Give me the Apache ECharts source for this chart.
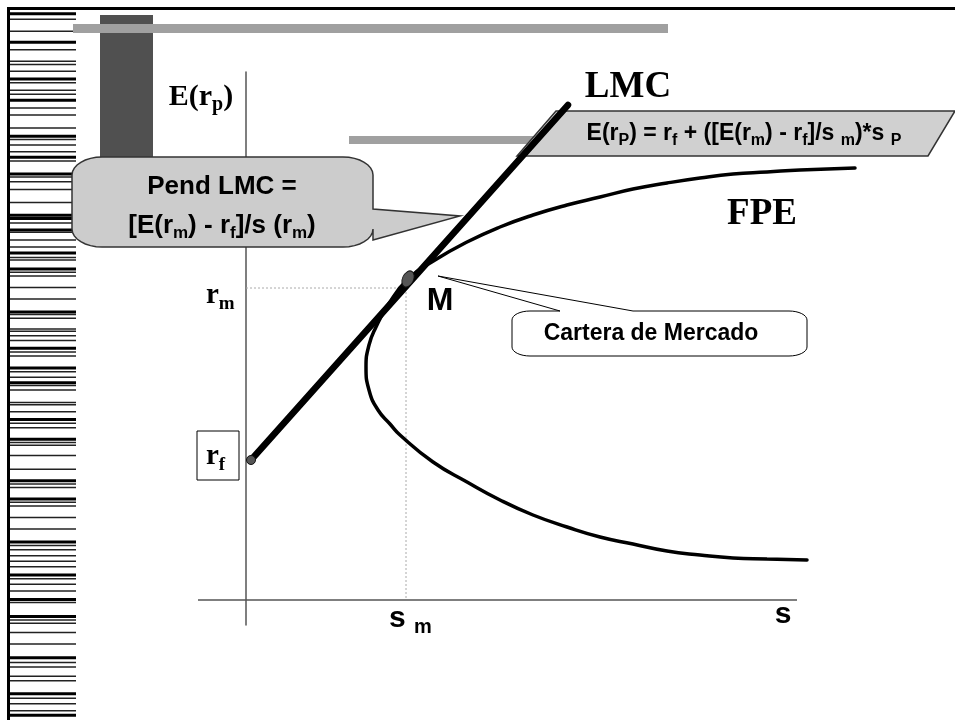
<!DOCTYPE html>
<html>
<head>
<meta charset="utf-8">
<script src="https://cdn.jsdelivr.net/npm/echarts@6.0.0/dist/echarts.min.js"></script>
<style>
  html, body { margin: 0; padding: 0; background: #fff; }
  #chart { width: 955px; height: 720px; }
</style>
</head>
<body>
<div id="chart"></div>
<script>
// market portfolio / risk free values
const rf = 7.0
const rm = 15.6
const sigmaM = 8.0

// frontera de portafolios eficientes (FPE), upper branch -> vertex -> lower branch
const fpeSigma = [30.45, 27.7, 26.05, 24.35, 22.7, 21.05, 19.35, 17.7, 16.05, 14.35, 12.7, 11.05, 9.45, 8.1, 7.1, 6.5, 6.15, 6.0,
  6.15, 6.6, 7.2, 7.7, 9.35, 11.05, 12.7, 14.35, 16.05, 17.7, 19.35, 21.05, 22.7, 24.35, 26.05, 28.05]
const fpeReturn = [21.6, 21.5, 21.4, 21.3, 21.1, 20.85, 20.55, 20.15, 19.75, 19.25, 18.65, 17.9, 17.0, 16.05, 14.75, 13.65, 12.75, 11.65,
  10.5, 9.5, 8.8, 8.25, 6.9, 5.9, 5.0, 4.25, 3.65, 3.15, 2.8, 2.45, 2.25, 2.1, 2.05, 2.0]

// linea del mercado de capitales (LMC)
const lmcSigma = [0.25, 16.1]
const lmcReturn = [rf, 24.75]

// marked points: rf and M
const pointSigma = [0.25, 8.1]
const pointReturn = [rf, 16.05]

// drawn axes extent
const sigmaAxis = [-2.4, 27.55]

// left decorative stripes [y, thickness]
const stripes = [
  [13.8, 3], [19.3, 1.5], [31.3, 1.5], [42.3, 3], [49.7, 1.5], [61.2, 1.5], [64.4, 1.5], [71.3, 1.5],
  [79.1, 3], [82.8, 1.5], [90.2, 1.5], [94.3, 1.5], [100.3, 3], [108.1, 1.5], [115, 1.5], [127.9, 1.5],
  [136.2, 3], [139.4, 1.5], [144.9, 1.5], [151.8, 1.5], [157.3, 3], [161, 1.5], [173.9, 3], [177.1, 1.5],
  [181.7, 1.5], [189.5, 1.5], [202.4, 1.5], [215.3, 3], [218.5, 3], [223.1, 1.5], [230, 3], [232.3, 1.5],
  [240.1, 1.5], [247, 1.5], [253, 3], [257.6, 1.5], [259.9, 1.5], [269.1, 3], [272.3, 1.5], [276, 1.5],
  [287.5, 1.5], [299, 1.5], [311.9, 3], [314.6, 1.5], [318.3, 1.5], [328.9, 1.5], [331.2, 1.5], [335.8, 1.5],
  [340.4, 1.5], [348.2, 3], [351.9, 1.5], [356, 1.5], [368, 3], [371.7, 1.5], [377.2, 1.5], [382.7, 3],
  [385.5, 1.5], [390.1, 1.5], [402.5, 1.5], [404.8, 1.5], [411.7, 1.5], [419.5, 3], [423.2, 1.5], [427.8, 1.5],
  [439.3, 3], [442.5, 1.5], [445.3, 1.5], [455.4, 1.5], [469.2, 1.5], [480.7, 3], [483.9, 1.5], [487.6, 1.5],
  [499.1, 3], [502.3, 1.5], [506, 1.5], [517.5, 1.5], [529, 1.5], [541.9, 3], [545.6, 1.5], [549.7, 1.5],
  [555.7, 1.5], [561.2, 1.5], [566.7, 1.5], [575, 3], [578.7, 1.5], [584.2, 1.5], [591.1, 1.5], [599.4, 3],
  [602.6, 1.5], [616.4, 3], [620.1, 1.5], [623.3, 1.5], [632.5, 1.5], [644, 1.5], [657.8, 3], [662.4, 1.5],
  [667, 1.5], [676.2, 1.5], [680.8, 1.5], [693.7, 3], [698.3, 1.5], [703.8, 1.5], [710.7, 1.5], [715.3, 3]
]

const SERIF = 'Liberation Serif'
const SANS = 'Liberation Sans'

const zip = (a, b) => a.map((v, i) => [v, b[i]])

const serifRich = (size, sub) => ({
  b: { fontFamily: SERIF, fontWeight: 'bold', fontSize: size, lineHeight: size + 6, verticalAlign: 'middle', color: '#000' },
  s: { fontFamily: SERIF, fontWeight: 'bold', fontSize: sub, lineHeight: sub, verticalAlign: 'bottom', color: '#000' }
})
const sansRich = (size, sub) => ({
  b: { fontFamily: SANS, fontWeight: 'bold', fontSize: size, lineHeight: size + 6, verticalAlign: 'middle', color: '#000' },
  s: { fontFamily: SANS, fontWeight: 'bold', fontSize: sub, lineHeight: sub, verticalAlign: 'bottom', color: '#000' }
})

const label = (x, y, text, rich, align) => ({
  type: 'text', x, y, z: 20,
  style: { text, rich, align: align || 'center', verticalAlign: 'middle' }
})

// rounded box outline with a pointer on its top or right side
function callout(x1, y1, x2, y2, rx, ry, side, b1, b2, tip) {
  const pts = []
  const arc = (cx, cy, a0, a1) => {
    for (let i = 0; i <= 8; i++) {
      const a = (a0 + (a1 - a0) * i / 8) * Math.PI / 180
      pts.push([cx + rx * Math.cos(a), cy + ry * Math.sin(a)])
    }
  }
  arc(x1 + rx, y1 + ry, 180, 270)
  if (side === 'top') pts.push([b1, y1], tip, [b2, y1])
  arc(x2 - rx, y1 + ry, 270, 360)
  if (side === 'right') pts.push([x2, b1], tip, [x2, b2])
  arc(x2 - rx, y2 - ry, 0, 90)
  arc(x1 + rx, y2 - ry, 90, 180)
  return pts
}

const graphics = []

// frame
graphics.push({ type: 'rect', z: 1, shape: { x: 7, y: 7, width: 948, height: 3 }, style: { fill: '#000' } })
graphics.push({ type: 'rect', z: 1, shape: { x: 7, y: 7, width: 3, height: 713 }, style: { fill: '#000' } })
stripes.forEach(([y, w]) => {
  graphics.push({
    type: 'rect', z: 1,
    shape: { x: 10, y: y - w / 2, width: 66, height: w },
    style: { fill: w > 2 ? '#000' : '#222' }
  })
})

// slide decorations
graphics.push({ type: 'rect', z: 1, shape: { x: 100, y: 15, width: 53, height: 150 }, style: { fill: '#505050' } })
graphics.push({ type: 'rect', z: 1, shape: { x: 73, y: 24, width: 595, height: 9 }, style: { fill: '#a0a0a0' } })
graphics.push({ type: 'rect', z: 1, shape: { x: 349, y: 136, width: 195, height: 8 }, style: { fill: '#a0a0a0' } })

// formula parallelogram
graphics.push({
  type: 'polygon', z: 1,
  shape: { points: [[556, 111], [955, 111], [928, 156], [517, 156]] },
  style: { fill: '#d0d0d0', stroke: '#333', lineWidth: 1.5 }
})
graphics.push(label(744, 134,
  '{b|E(r}{s|P}{b|) = r}{s|f}{b| + ([E(r}{s|m}{b|) - r}{s|f}{b|]/s }{s|m}{b|)*s }{s|P}', sansRich(23, 16)))

// Pend LMC callout
graphics.push({
  type: 'polygon', z: 1,
  shape: { points: callout(72, 157, 373, 247, 30, 18, 'right', 209, 240, [460, 216]) },
  style: { fill: '#cccccc', stroke: '#333', lineWidth: 1.5 }
})
graphics.push(label(222, 187, '{b|Pend LMC =}', sansRich(26, 17)))
graphics.push(label(222, 226, '{b|[E(r}{s|m}{b|) - r}{s|f}{b|]/s (r}{s|m}{b|)}', sansRich(26, 17)))

// Cartera de Mercado callout
graphics.push({
  type: 'polygon', z: 1,
  shape: { points: callout(512, 311, 807, 356, 18, 9, 'top', 560, 633, [438, 276]) },
  style: { fill: '#fff', stroke: '#000', lineWidth: 1 }
})
graphics.push(label(651, 334, '{b|Cartera de Mercado}', sansRich(23, 15)))

// axis / curve labels
graphics.push(label(201, 97, '{b|E(r}{s|p}{b|)}', serifRich(30, 20)))
graphics.push(label(628, 87, '{b|LMC}', serifRich(37, 22)))
graphics.push(label(762, 214, '{b|FPE}', serifRich(37, 22)))
graphics.push(label(206, 296, '{b|r}{s|m}', serifRich(29, 19), 'left'))
graphics.push({ type: 'rect', z: 19, shape: { x: 197, y: 431, width: 42, height: 49 }, style: { fill: '#fff', stroke: '#000', lineWidth: 1 } })
graphics.push(label(206, 457, '{b|r}{s|f}', serifRich(29, 19), 'left'))
graphics.push(label(440, 301, '{b|M}', sansRich(32, 20)))
graphics.push(label(389, 619, '{b|s }{s|m}', sansRich(30, 20), 'left'))
graphics.push(label(783, 615, '{b|s}', sansRich(30, 20)))

const plainAxis = {
  type: 'value',
  axisTick: { show: false },
  axisLabel: { show: false },
  splitLine: { show: false }
}

const chart = echarts.init(document.getElementById('chart'), null, { renderer: 'canvas' })
chart.setOption({
  backgroundColor: '#fff',
  animation: false,
  grid: { left: 198, right: 95, top: 72, bottom: 95, containLabel: false, outerBoundsMode: 'none' },
  xAxis: { ...plainAxis, min: -2.4, max: 30.7, axisLine: { show: false } },
  yAxis: { ...plainAxis, min: -1.25, max: 26.4, axisLine: { show: true, onZero: true, lineStyle: { color: '#555', width: 1.5 } } },
  graphic: { elements: graphics },
  series: [
    {
      name: 'sigma axis',
      type: 'line',
      data: sigmaAxis.map(s => [s, 0]),
      showSymbol: false,
      lineStyle: { color: '#555', width: 1.5 },
      z: 2
    },
    {
      name: 'guides',
      type: 'line',
      data: [[0, rm], [sigmaM, rm], [sigmaM, 0]],
      showSymbol: false,
      lineStyle: { color: '#aaa', width: 1, type: [2, 2] },
      z: 3
    },
    {
      name: 'FPE',
      type: 'line',
      data: zip(fpeSigma, fpeReturn),
      smooth: 0.5,
      showSymbol: false,
      lineStyle: { color: '#000', width: 3.5, cap: 'round' },
      z: 4
    },
    {
      name: 'LMC',
      type: 'line',
      data: zip(lmcSigma, lmcReturn),
      showSymbol: false,
      lineStyle: { color: '#000', width: 6.5, cap: 'round' },
      z: 5
    },
    {
      name: 'points',
      type: 'scatter',
      data: zip(pointSigma, pointReturn),
      symbolSize: (v, p) => p.dataIndex === 0 ? [9, 9] : [11, 17],
      symbolRotate: (v, p) => p.dataIndex === 0 ? 0 : -25,
      itemStyle: { color: '#555', borderColor: '#111', borderWidth: 1, opacity: 1 },
      z: 6
    }
  ]
})
</script>
</body>
</html>
